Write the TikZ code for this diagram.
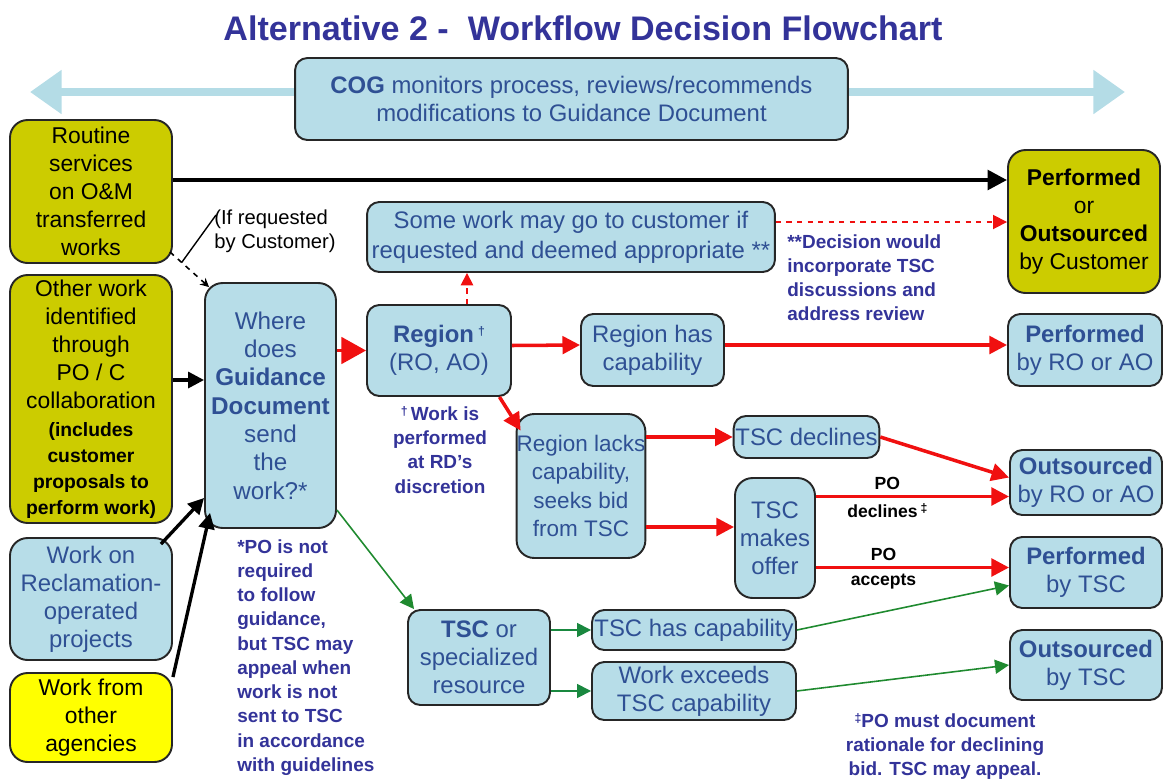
\documentclass[tikz,border=0pt]{standalone}
\usepackage{fontspec}
\setmainfont{Liberation Sans}
\usetikzlibrary{arrows.meta,calc}
\definecolor{boxblue}{HTML}{B7DDE8}
\definecolor{arrowblue}{HTML}{B4DCE6}
\definecolor{olivebox}{HTML}{CCCC00}
\definecolor{yelbox}{HTML}{FFFF00}
\definecolor{boxtext}{HTML}{2F5094}
\definecolor{anntext}{HTML}{333399}
\definecolor{redarr}{HTML}{F01010}
\definecolor{greenarr}{HTML}{1F8A2F}
\newcommand\mainf{\fontsize{13.6}{16}\selectfont}
\newcommand\olivef{\fontsize{13}{16}\selectfont}
\newcommand\annf{\fontsize{10.8}{13.8}\selectfont\bfseries}
\newcommand\parsm[1]{{\fontsize{11}{12}\selectfont\bfseries #1}}
\begin{document}
\begin{tikzpicture}[x=0.02cm,y=-0.02cm,
  box/.style={draw=black!85, line width=1.1pt, rounded corners=7pt, fill=boxblue,
    text=boxtext, align=center, font=\mainf, inner sep=1pt},
  tallbox/.style={box, rounded corners=10pt},
  ybox/.style={tallbox, fill=olivebox, text=black, font=\olivef},
  ann/.style={text=anntext, font=\annf, inner sep=0pt},
  blk/.style={-{Triangle[length=9pt,width=9pt]}, line width=1.9pt, black},
  redl/.style={-{Triangle[length=10pt,width=10pt]}, line width=2pt, redarr},
  grn/.style={-{Triangle[length=8pt,width=8pt]}, line width=0.9pt, greenarr},
  polab/.style={font=\fontsize{10}{12}\selectfont\bfseries, text=black, inner sep=1pt}
]
\useasboundingbox (0,0) rectangle (1164,782);

% title
\node[font=\fontsize{19.4}{22}\selectfont\bfseries, text=anntext] (title) at (583,28)
  {Alternative 2 -\ \ Workflow Decision Flowchart};

% COG double arrow
\coordinate (cogL) at (30,92);
\coordinate (cogR) at (1125,92);
\draw[{Triangle[length=18pt,width=24pt]}-{Triangle[length=18pt,width=24pt]},
  line width=4.8pt, arrowblue] (cogL) -- (cogR);
\node[box, minimum width=11.06cm, minimum height=1.64cm] (cog) at (571.5,99)
  {\textbf{COG} monitors process, reviews/recommends\\modifications to Guidance Document};

% left column
\node[ybox, minimum width=3.24cm, minimum height=2.86cm] (routine) at (91,191.5)
  {Routine\\services\\on O\&M\\transferred\\works};
\node[ybox, minimum width=3.24cm, minimum height=4.96cm] (other) at (91,399)
  {Other work\\identified\\through\\PO / C\\collaboration\\[-0.5pt]
   \parsm{(includes}\\[-1.2pt]\parsm{customer}\\[-1.2pt]\parsm{proposals to}\\[-1.2pt]\parsm{perform work)}};
\node[tallbox, minimum width=3.24cm, minimum height=2.44cm] (recl) at (91,599)
  {Work on\\Reclamation-\\operated\\projects};
\node[tallbox, fill=yelbox, text=black, font=\olivef, minimum width=3.24cm, minimum height=1.78cm] (agencies) at (91,717.5)
  {Work from\\other\\agencies};

% where
\node[tallbox, font=\fontsize{13.8}{16.1}\selectfont, minimum width=2.62cm, minimum height=4.9cm] (where) at (270.5,405.5)
  {Where\\does\\\textbf{Guidance}\\\textbf{Document}\\send\\the\\work?*};

% region etc
\node[box, minimum width=2.88cm, minimum height=1.82cm] (region) at (439,350.5)
  {\textbf{Region}\,\raisebox{0.55ex}{\scriptsize\bfseries †}\\(RO, AO)};
\node[box, minimum width=8.16cm, minimum height=1.4cm] (some) at (571,237)
  {Some work may go to customer if\\[1pt]requested and deemed appropriate **};
\node[ybox, minimum width=3.04cm, minimum height=2.86cm] (custout) at (1084,221.5)
  {\textbf{Performed}\\or\\\textbf{Outsourced}\\by Customer};
\node[box, minimum width=2.86cm, minimum height=1.44cm] (reghas) at (652.5,350)
  {Region has\\capability};
\node[box, minimum width=3.08cm, minimum height=1.44cm] (perfro) at (1085,350)
  {\textbf{Performed}\\by RO or AO};
\node[tallbox, font=\fontsize{12.8}{16}\selectfont, inner sep=0pt, minimum width=2.24cm, minimum height=2.88cm] (reglacks) at (581,486)
  {Region lacks\\capability,\\seeks bid\\from TSC};
\node[box, minimum width=2.86cm, minimum height=0.84cm] (tscdec) at (806.5,437)
  {TSC declines};
\node[tallbox, minimum width=1.6cm, minimum height=2.4cm] (tscoffer) at (775,538)
  {TSC\\makes\\offer};
\node[box, minimum width=3.04cm, minimum height=1.3cm] (outro) at (1086,482.5)
  {\textbf{Outsourced}\\by RO or AO};
\node[box, minimum width=3.04cm, minimum height=1.42cm] (perftsc) at (1086,572.5)
  {\textbf{Performed}\\by TSC};
\node[box, minimum width=3.04cm, minimum height=1.4cm] (outtsc) at (1086,665)
  {\textbf{Outsourced}\\by TSC};
\node[box, minimum width=2.84cm, minimum height=1.9cm] (tscspec) at (479,657.5)
  {\textbf{TSC} or\\specialized\\resource};
\node[box, minimum width=4.08cm, minimum height=0.8cm] (tschas) at (694,630)
  {TSC has capability};
\node[box, minimum width=4.08cm, minimum height=1.16cm] (exceeds) at (694,691)
  {Work exceeds\\TSC capability};

% annotations
\node[font=\fontsize{11.5}{13.3}\selectfont, align=left, inner sep=0pt, anchor=north west] (ifreq) at (214,210)
  {(If requested\\by Customer)};
\node[ann, align=left, anchor=north west] (decision) at (787,234)
  {**Decision would\\incorporate TSC\\discussions and\\address review};
\node[ann, align=center, anchor=north] (rdnote) at (440,406)
  {\raisebox{0.5ex}{\scriptsize †}\,Work is\\performed\\at RD’s\\discretion};
\node[ann, align=left, anchor=north west] (ponote) at (237,539)
  {*PO is not\\required\\to follow\\guidance,\\but TSC may\\appeal when\\work is not\\sent to TSC\\in accordance\\with guidelines};
\node[ann, align=center, anchor=north] (ddnote) at (945,713)
  {\raisebox{0.5ex}{\scriptsize ‡}PO must document\\rationale for declining\\bid. TSC may appeal.};

% connectors
\draw[blk, line width=2.4pt, -{Triangle[length=11pt,width=11pt]}]
  ([yshift=0.23cm]routine.east) -- ([yshift=0.23cm]routine.east -| custout.west);
\draw[redl, dashed, line width=1pt, -{Triangle[length=8pt,width=8pt]}]
  ([yshift=0.3cm]some.east) -- ([yshift=0.3cm]some.east -| custout.west);
\draw[redl, dashed, line width=1pt, -{Triangle[length=7pt,width=7pt]}]
  ([xshift=0.56cm]region.north) -- ([xshift=0.56cm]region.north |- some.south);
\draw[redl, line width=2pt, -{Triangle[length=14pt,width=15pt]}]
  (where.east |- region.west) -- (region.west);
\draw[redl] ([yshift=0.1cm]region.east) -- ([yshift=0.1cm]reghas.west);
\draw[redl] ([yshift=0.1cm]reghas.east) -- ([yshift=0.1cm]perfro.west);
\draw[redl] ([xshift=-0.25cm]region.south east) -- ([xshift=0.1cm,yshift=-0.35cm]reglacks.north west);
\draw[redl] (reglacks.east |- tscdec.west) -- (tscdec.west);
\coordinate (offin) at ($(tscoffer.west)+(0,-11)$);
\draw[redl] (reglacks.east |- offin) -- (offin);
\draw[redl] (tscdec.east) -- ([yshift=0.1cm]outro.west);
\coordinate (declin) at ($(outro.west)+(0,14)$);
\draw[redl] (tscoffer.east |- declin) -- (declin)
  node[polab, pos=0.37, above=2pt] (po1) {PO}
  node[polab, pos=0.37, below=2pt] (dec1) {declines\,\raisebox{0.5ex}{\scriptsize ‡}};
\coordinate (accin) at ($(perftsc.west)+(0,-5)$);
\draw[redl] (tscoffer.east |- accin) -- (accin)
  node[polab, pos=0.35, above=2pt] (po2) {PO}
  node[polab, pos=0.35, below=2pt] (acc2) {accepts};

\draw[grn] ([yshift=-2.09cm]where.east) -- ([xshift=0.14cm]tscspec.north west);
\draw[grn, draw=greenarr!80!teal] (tscspec.east |- tschas.west) -- (tschas.west);
\draw[grn, draw=greenarr!80!teal] (tscspec.east |- exceeds.west) -- (exceeds.west);
\draw[grn] (tschas.east) -- ([yshift=-0.26cm]perftsc.west);
\draw[grn] (exceeds.east) -- (outtsc.west);

\draw[blk] ([yshift=0.38cm]other.east) -- ([yshift=0.38cm]other.east -| where.west);
\draw[blk] ([xshift=-0.24cm,yshift=-0.14cm]recl.north east) -- ([yshift=0.62cm]where.south west);
\draw[blk] ([yshift=-0.1cm]agencies.north east) -- ([xshift=0.12cm,yshift=0.32cm]where.south west);

\coordinate (dsA) at ([xshift=-0.06cm,yshift=0.24cm]routine.south east);
\coordinate (dsB) at ([xshift=0.1cm,yshift=-0.1cm]where.north west);
\draw[dashed, line width=0.9pt, -{Stealth[length=5pt,width=5pt]}] (dsA) -- (dsB);
\coordinate (dsM) at ($(dsA)!0.3!(dsB)$);
\draw[line width=0.8pt] ([xshift=0.04cm,yshift=-0.1cm]ifreq.north west) -- (dsM);
\end{tikzpicture}
\end{document}
